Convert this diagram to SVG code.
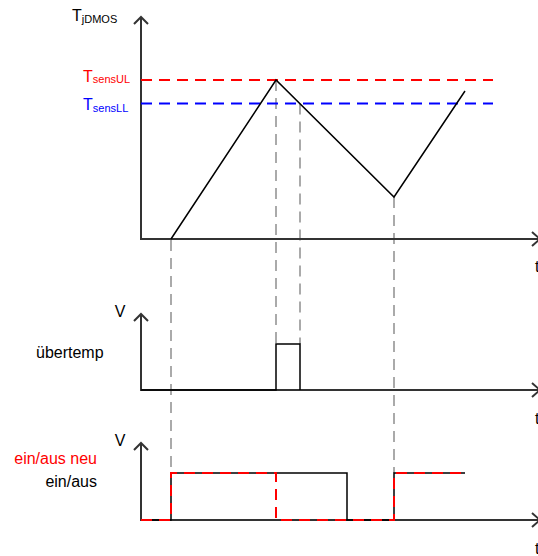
<svg xmlns="http://www.w3.org/2000/svg" width="538" height="556" viewBox="0 0 538 556">
<style>
text{font-family:"Liberation Sans",Arial,sans-serif;font-size:16px;fill:#000}
.sub{font-size:11px}
.axis{stroke:#333;stroke-width:2;fill:none}
.sig{stroke:#000;stroke-width:1.5;fill:none}
.guide{stroke:#aaa;stroke-width:2;stroke-dasharray:11 7;fill:none}
.red{stroke:#ff0000;stroke-width:2;stroke-dasharray:11 7;fill:none}
.blue{stroke:#0000ff;stroke-width:2;stroke-dasharray:11 7;fill:none}
</style>
<rect width="538" height="556" fill="#fff"/>
<g id="connectors">
<path class="guide" d="M171 240V473 M276 80V344 M300 103.5V344 M394 197V473"/>
</g>
<g id="top-chart">
<path class="axis" d="M141 17V239H540 M134 24L141 17L148 24 M532 232L540 239L532 246"/>
<path class="red" d="M141 80H493"/>
<path class="blue" d="M141 103.5H493"/>
<path class="sig" d="M171 239L276 80L394 197L465 91"/>
<text x="72" y="21">T<tspan class="sub" dy="2">jDMOS</tspan></text>
<text x="83" y="82" style="fill:#ff0000">T<tspan class="sub" dy="1" style="fill:#ff0000">sensUL</tspan></text>
<text x="83" y="110" style="fill:#0000ff">T<tspan class="sub" dy="2" style="fill:#0000ff">sensLL</tspan></text>
<text x="535" y="272">t</text>
</g>
<g id="middle-chart">
<path class="axis" d="M141 314V390H540 M134 321L141 314L148 321 M532 383L540 390L532 397"/>
<path class="sig" d="M141 390H276V344H300V390"/>
<text x="120" y="317" text-anchor="middle">V</text>
<text x="36" y="358">übertemp</text>
<text x="535" y="424">t</text>
</g>
<g id="bottom-chart">
<path class="axis" d="M141 443V520H540 M134 450L141 443L148 450 M532 513L540 520L532 527"/>
<path class="sig" d="M141 520H171V473H347V520H394V473H465"/>
<path class="red" d="M141 520H171V473H276V520H394V473H465"/>
<text x="120" y="446" text-anchor="middle">V</text>
<text x="97" y="464" text-anchor="end" style="fill:#ff0000">ein/aus neu</text>
<text x="97" y="487" text-anchor="end">ein/aus</text>
<text x="535" y="554">t</text>
</g>
</svg>
